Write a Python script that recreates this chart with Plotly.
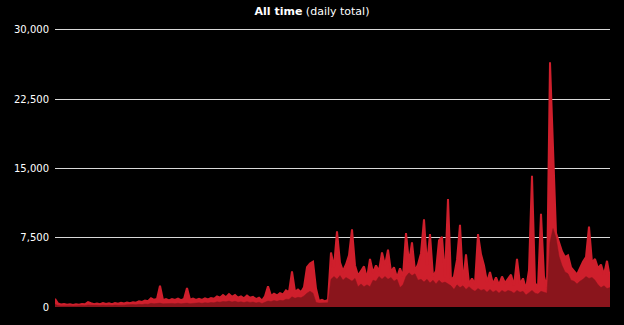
import plotly.graph_objects as go

# day index (one sample per ~3 px of the original plot)
days = list(range(186))

total = [
    900, 380, 280, 320, 240, 290, 230, 300, 250, 330,
    300, 520, 400, 300, 380, 310, 420, 330, 400, 310,
    420, 360, 450, 380, 480, 400, 520, 470, 620, 540,
    700, 620, 950, 780, 880, 2300, 740, 860, 720, 860,
    760, 900, 740, 860, 2050, 780, 900,
    760, 880, 760, 940, 820, 960, 900, 1150, 1000, 1300,
    1050, 1400, 1100, 1300, 1000, 1150, 950, 1250, 1000, 1100,
    850, 1000, 700, 1150, 2250, 1200, 1450, 1250, 1500, 1350,
    1800, 1600, 3850, 1650, 1900, 1600, 2150, 4300, 4700, 4900,
    2000, 650, 780, 620, 760, 5900, 4300, 8200, 4800, 3900,
    4600, 5600, 8400, 4500, 3400, 3900, 4400, 3100, 5200, 3700,
    4500, 3900, 5900, 4500, 6200, 3800, 4300, 3200, 4200, 3300,
    8000, 4800, 7000, 3900, 4600, 5800, 9500, 4500, 7900, 3300,
    3900, 7200, 7600, 3200, 11700, 2900, 3300, 5100, 8900, 2600,
    5700, 2500,
    3100, 2500, 7900, 5700, 4500, 2700, 3800, 2500, 3200, 2400,
    3300, 2600, 3100, 3500, 2300, 5200, 2500, 3100, 1900, 4000,
    14200, 2600, 2100, 10100, 3300, 2100, 26500, 17000, 8000, 7000,
    6000, 5400, 5600, 4300, 3900, 3500, 4200, 4900, 5400, 8700,
    4800, 5200, 4200, 4600, 3500, 5000, 3100,
]

subset = [
    300, 150, 120, 140, 100, 130, 100, 140, 120, 160,
    140, 230, 180, 140, 180, 150, 200, 160, 200, 150,
    210, 180, 230, 200, 240, 210, 260, 240, 300, 260,
    330, 300, 400, 350, 390, 420, 340, 380, 340, 390,
    350, 410, 350, 390, 420, 360, 410,
    400, 450, 400, 470, 420, 480, 450, 560, 520, 600,
    560, 650, 540, 620, 520, 560, 480, 580, 500, 540,
    440, 520, 380, 560, 650, 600, 700, 620, 720, 680,
    850, 820, 1100, 950, 1050, 1000, 1200, 1500, 1700, 1500,
    500, 420, 450, 400, 450, 3000, 3300, 3000, 3400, 2900,
    3200, 3000, 2800, 3100, 2200, 2500, 2200, 2400, 2200, 2900,
    2800, 3300, 3000, 3300, 3000, 3200, 2800, 3000, 2100, 2400,
    3300, 3700, 3400, 3600, 2900, 3000, 2700, 3000, 2600, 2900,
    2500, 2900, 2600, 2700, 2500, 2300, 1900, 2400, 2100, 2300,
    1900, 2200,
    1900, 1700, 2000, 1800, 1900, 1600, 1900, 1600, 1800, 1500,
    1800, 1600, 1800, 1700, 1500, 1800, 1600, 1700, 1300, 1600,
    1800, 1500, 1400, 1700, 1600, 1500, 7000, 8500, 7500, 5500,
    4500, 3800, 3600, 2900, 2800, 2500, 2800, 3000, 3300, 3100,
    3200, 2900, 2400, 2100, 2300, 2000, 2100,
]

y_ticks = [0, 7500, 15000, 22500, 30000]
y_tick_labels = ["0", "7,500", "15,000", "22,500", "30,000"]

BRIGHT = "#cf1f2c"
DARK = "#8a151c"

fig = go.Figure()
fig.add_trace(go.Scatter(
    x=days, y=total, mode="lines",
    line=dict(color=BRIGHT, width=2),
    fill="tozeroy", fillcolor=BRIGHT,
    hoverinfo="skip", showlegend=False,
))
fig.add_trace(go.Scatter(
    x=days, y=subset, mode="lines",
    line=dict(color=DARK, width=0.5),
    fill="tozeroy", fillcolor=DARK,
    hoverinfo="skip", showlegend=False,
))

fig.update_layout(
    width=624, height=325,
    margin=dict(l=55, r=14, t=25, b=16, pad=0),
    paper_bgcolor="black", plot_bgcolor="black",
    font=dict(family="DejaVu Sans", color="white", size=10),
    title=dict(
        text="<b>All time</b> (daily total)",
        x=0.5, xref="container", xanchor="center",
        y=1 - 11 / 325, yref="container", yanchor="middle",
        font=dict(family="DejaVu Sans", size=11, color="white"),
    ),
    showlegend=False,
)
fig.update_xaxes(
    range=[0, len(days) - 1], visible=False, showgrid=False, zeroline=False,
)
fig.update_yaxes(
    range=[0, 30540], tickvals=y_ticks, ticktext=y_tick_labels,
    showgrid=True, gridcolor="#d9d9d9", gridwidth=1,
    zeroline=False, showline=False, ticks="",
    ticklabelstandoff=5,
    tickfont=dict(family="DejaVu Sans", size=10, color="white"),
)

fig.write_html("out.html")
